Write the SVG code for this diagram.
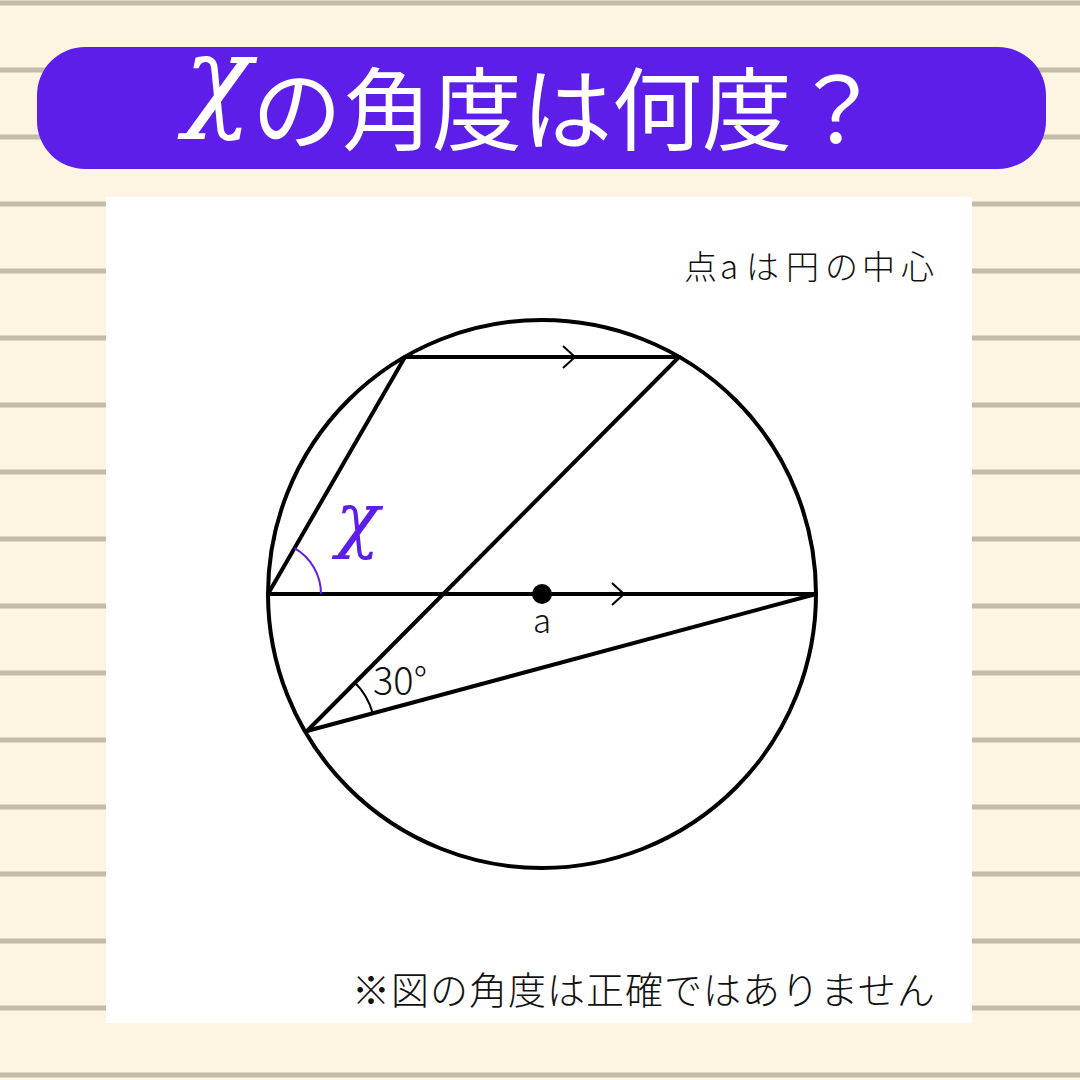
<svg xmlns="http://www.w3.org/2000/svg" width="1080" height="1080" viewBox="0 0 1080 1080">
<style>
.rule{stroke:#C5BCA7;stroke-width:5}
.ln{fill:none;stroke:#000;stroke-width:4;stroke-linecap:round}
.chev{fill:none;stroke:#000;stroke-width:2}
.jp{font-family:"Noto Sans CJK JP","Noto Sans",sans-serif}
.thin{font-weight:300;fill:#111}
.chi{font-family:"DejaVu Serif","Liberation Serif",serif;font-style:italic}
</style>
<rect width="1080" height="1080" fill="#FDF4E1"/>
<g id="rules">
<line class="rule" x1="0" y1="3" x2="1080" y2="3"/>
<line class="rule" x1="0" y1="70" x2="1080" y2="70"/>
<line class="rule" x1="0" y1="137" x2="1080" y2="137"/>
<line class="rule" x1="0" y1="204" x2="1080" y2="204"/>
<line class="rule" x1="0" y1="271" x2="1080" y2="271"/>
<line class="rule" x1="0" y1="338" x2="1080" y2="338"/>
<line class="rule" x1="0" y1="405" x2="1080" y2="405"/>
<line class="rule" x1="0" y1="472" x2="1080" y2="472"/>
<line class="rule" x1="0" y1="539" x2="1080" y2="539"/>
<line class="rule" x1="0" y1="606" x2="1080" y2="606"/>
<line class="rule" x1="0" y1="673" x2="1080" y2="673"/>
<line class="rule" x1="0" y1="740" x2="1080" y2="740"/>
<line class="rule" x1="0" y1="807" x2="1080" y2="807"/>
<line class="rule" x1="0" y1="874" x2="1080" y2="874"/>
<line class="rule" x1="0" y1="941" x2="1080" y2="941"/>
<line class="rule" x1="0" y1="1008" x2="1080" y2="1008"/>
<line class="rule" x1="0" y1="1075" x2="1080" y2="1075"/>
</g>
<g id="title">
<rect x="37" y="47" width="1009" height="122" rx="48" fill="#5C1EE8"/>
<text class="chi" x="184" y="116" font-size="112" fill="#fff">χ</text>
<text class="jp" x="252" y="143" font-size="90" fill="#fff">の角度は何度？</text>
</g>
<rect id="panel" x="106" y="197" width="866" height="826" fill="#fff"/>
<text id="note-top" class="jp thin" x="684 720 746 786 825 862 901" y="279" font-size="33">点aは円の中心</text>
<text id="note-bottom" class="jp thin" x="352" y="1004" font-size="38" letter-spacing="1">※図の角度は正確ではありません</text>
<g id="circle">
<circle cx="542" cy="594" r="274" class="ln"/>
</g>
<g id="connectors">
<line class="ln" x1="405" y1="357" x2="679" y2="357"/>
<line class="ln" x1="268" y1="594" x2="405" y2="357"/>
<line class="ln" x1="268" y1="594" x2="816" y2="594"/>
<line class="ln" x1="307" y1="731" x2="679" y2="357"/>
<line class="ln" x1="307" y1="731" x2="816" y2="594"/>
<polyline class="chev" points="563,346 575,357 563,368"/>
<polyline class="chev" points="612,583 624,594 612,605"/>
</g>
<g id="center-a">
<circle cx="542" cy="594" r="10" fill="#000"/>
<text class="jp thin" x="542" y="633" font-size="33" text-anchor="middle">a</text>
</g>
<g id="angle-x">
<path d="M321,594 A53,53 0 0 0 294.5,548.1" fill="none" stroke="#5C1EE8" stroke-width="2"/>
<text class="chi" x="336" y="544" font-size="72" fill="#5C1EE8">χ</text>
</g>
<g id="angle-30">
<path d="M372.7,713.3 A68,68 0 0 0 355,682.8" fill="none" stroke="#000" stroke-width="2"/>
<text class="jp thin" x="373" y="695" font-size="38">30°</text>
</g>
</svg>
